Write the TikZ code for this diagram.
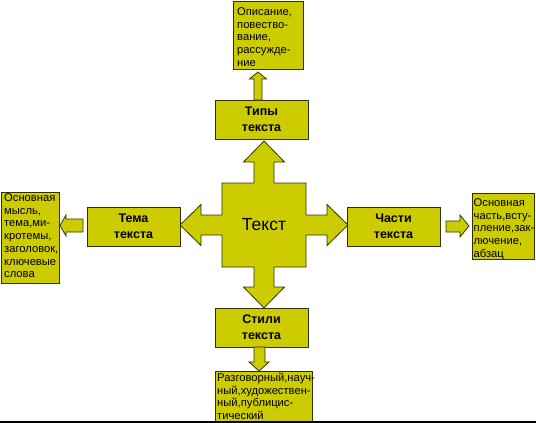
\documentclass[tikz,border=0pt]{standalone}
\usepackage{fontspec}
\setmainfont{Liberation Sans}
\definecolor{fillY}{RGB}{204,204,0}
\definecolor{edgeY}{RGB}{50,50,0}
\begin{document}
\begin{tikzpicture}[x=1pt,y=-1pt,
  solid shape/.style={fill=fillY, draw=edgeY, line width=0.8pt, line join=miter},
  mainbox/.style={solid shape, rectangle, inner sep=0pt, minimum width=93pt, minimum height=39pt,
    font=\bfseries\fontsize{12.5}{16}\selectfont, align=center},
  descbox/.style={solid shape, rectangle, inner sep=0pt, anchor=north west},
  desctext/.style={anchor=north west, inner sep=0pt, align=left, font=\fontsize{11.2}{12.7}\selectfont}]
\useasboundingbox (0,0) rectangle (536,423);

% central cross
\draw[solid shape] (264,141) -- (284.5,162) -- (274,162) -- (274,183) -- (306,183) -- (306,215)
  -- (327,215) -- (327,204.5) -- (348,225) -- (327,245.5) -- (327,235) -- (306,235) -- (306,267)
  -- (274,267) -- (274,287) -- (284.5,287) -- (264,308) -- (243.5,287) -- (254,287) -- (254,267)
  -- (222,267) -- (222,235) -- (201,235) -- (201,245.5) -- (180,225) -- (201,204.5) -- (201,215)
  -- (222,215) -- (222,183) -- (254,183) -- (254,162) -- (243.5,162) -- cycle;
\node[font=\fontsize{17.5}{20}\selectfont, inner sep=0pt] (text) at (264,225) {Текст};

% main boxes
\node[mainbox] (types) at (261.5,119.5) {Типы\\текста};
\node[mainbox] (theme) at (133.5,226.5) {Тема\\текста};
\node[mainbox] (parts) at (393.5,226.5) {Части\\текста};
\node[mainbox] (styles) at (261.5,327.5) {Стили\\текста};

% description boxes
\node[descbox, minimum width=70pt, minimum height=68.5pt] (td) at (233,0.5) {};
\node[desctext] (tdt) at (237,7.5) {Описание,\\повество-\\вание,\\рассужде-\\ние};

\node[descbox, minimum width=58.5pt, minimum height=91pt] (ld) at (0.5,192) {};
\node[desctext] (ldt) at (4,193.5) {Основная\\мысль,\\тема,ми-\\кротемы,\\заголовок,\\ключевые\\слова};

\node[descbox, minimum width=62pt, minimum height=66pt] (rd) at (472,193) {};
\node[desctext] (rdt) at (473.5,198.5) {Основная\\часть,всту-\\пление,зак-\\лючение,\\абзац};

\node[descbox, minimum width=97pt, minimum height=50pt] (bd) at (215,371) {};
\node[desctext] (bdt) at (217,373) {Разговорный,науч-\\ный,художествен-\\ный,публицис-\\тический};

% small block arrows
\draw[solid shape] (254,100) -- (254,79) -- (249.5,79) -- (258,72) -- (266.5,79) -- (262,79) -- (262,100) -- cycle;
\draw[solid shape] (83,219) -- (66,219) -- (66,215) -- (60,225.5) -- (66,236) -- (66,232) -- (83,232) -- cycle;
\draw[solid shape] (446,221) -- (460,221) -- (460,215) -- (469,226) -- (460,237) -- (460,232) -- (446,232) -- cycle;
\draw[solid shape] (254,347) -- (254,362) -- (249,362) -- (259,371) -- (269,362) -- (265,362) -- (265,347) -- cycle;

% bottom rule
\draw[line width=1.5pt, black] (0,421.8) -- (536,421.8);
\end{tikzpicture}
\end{document}
